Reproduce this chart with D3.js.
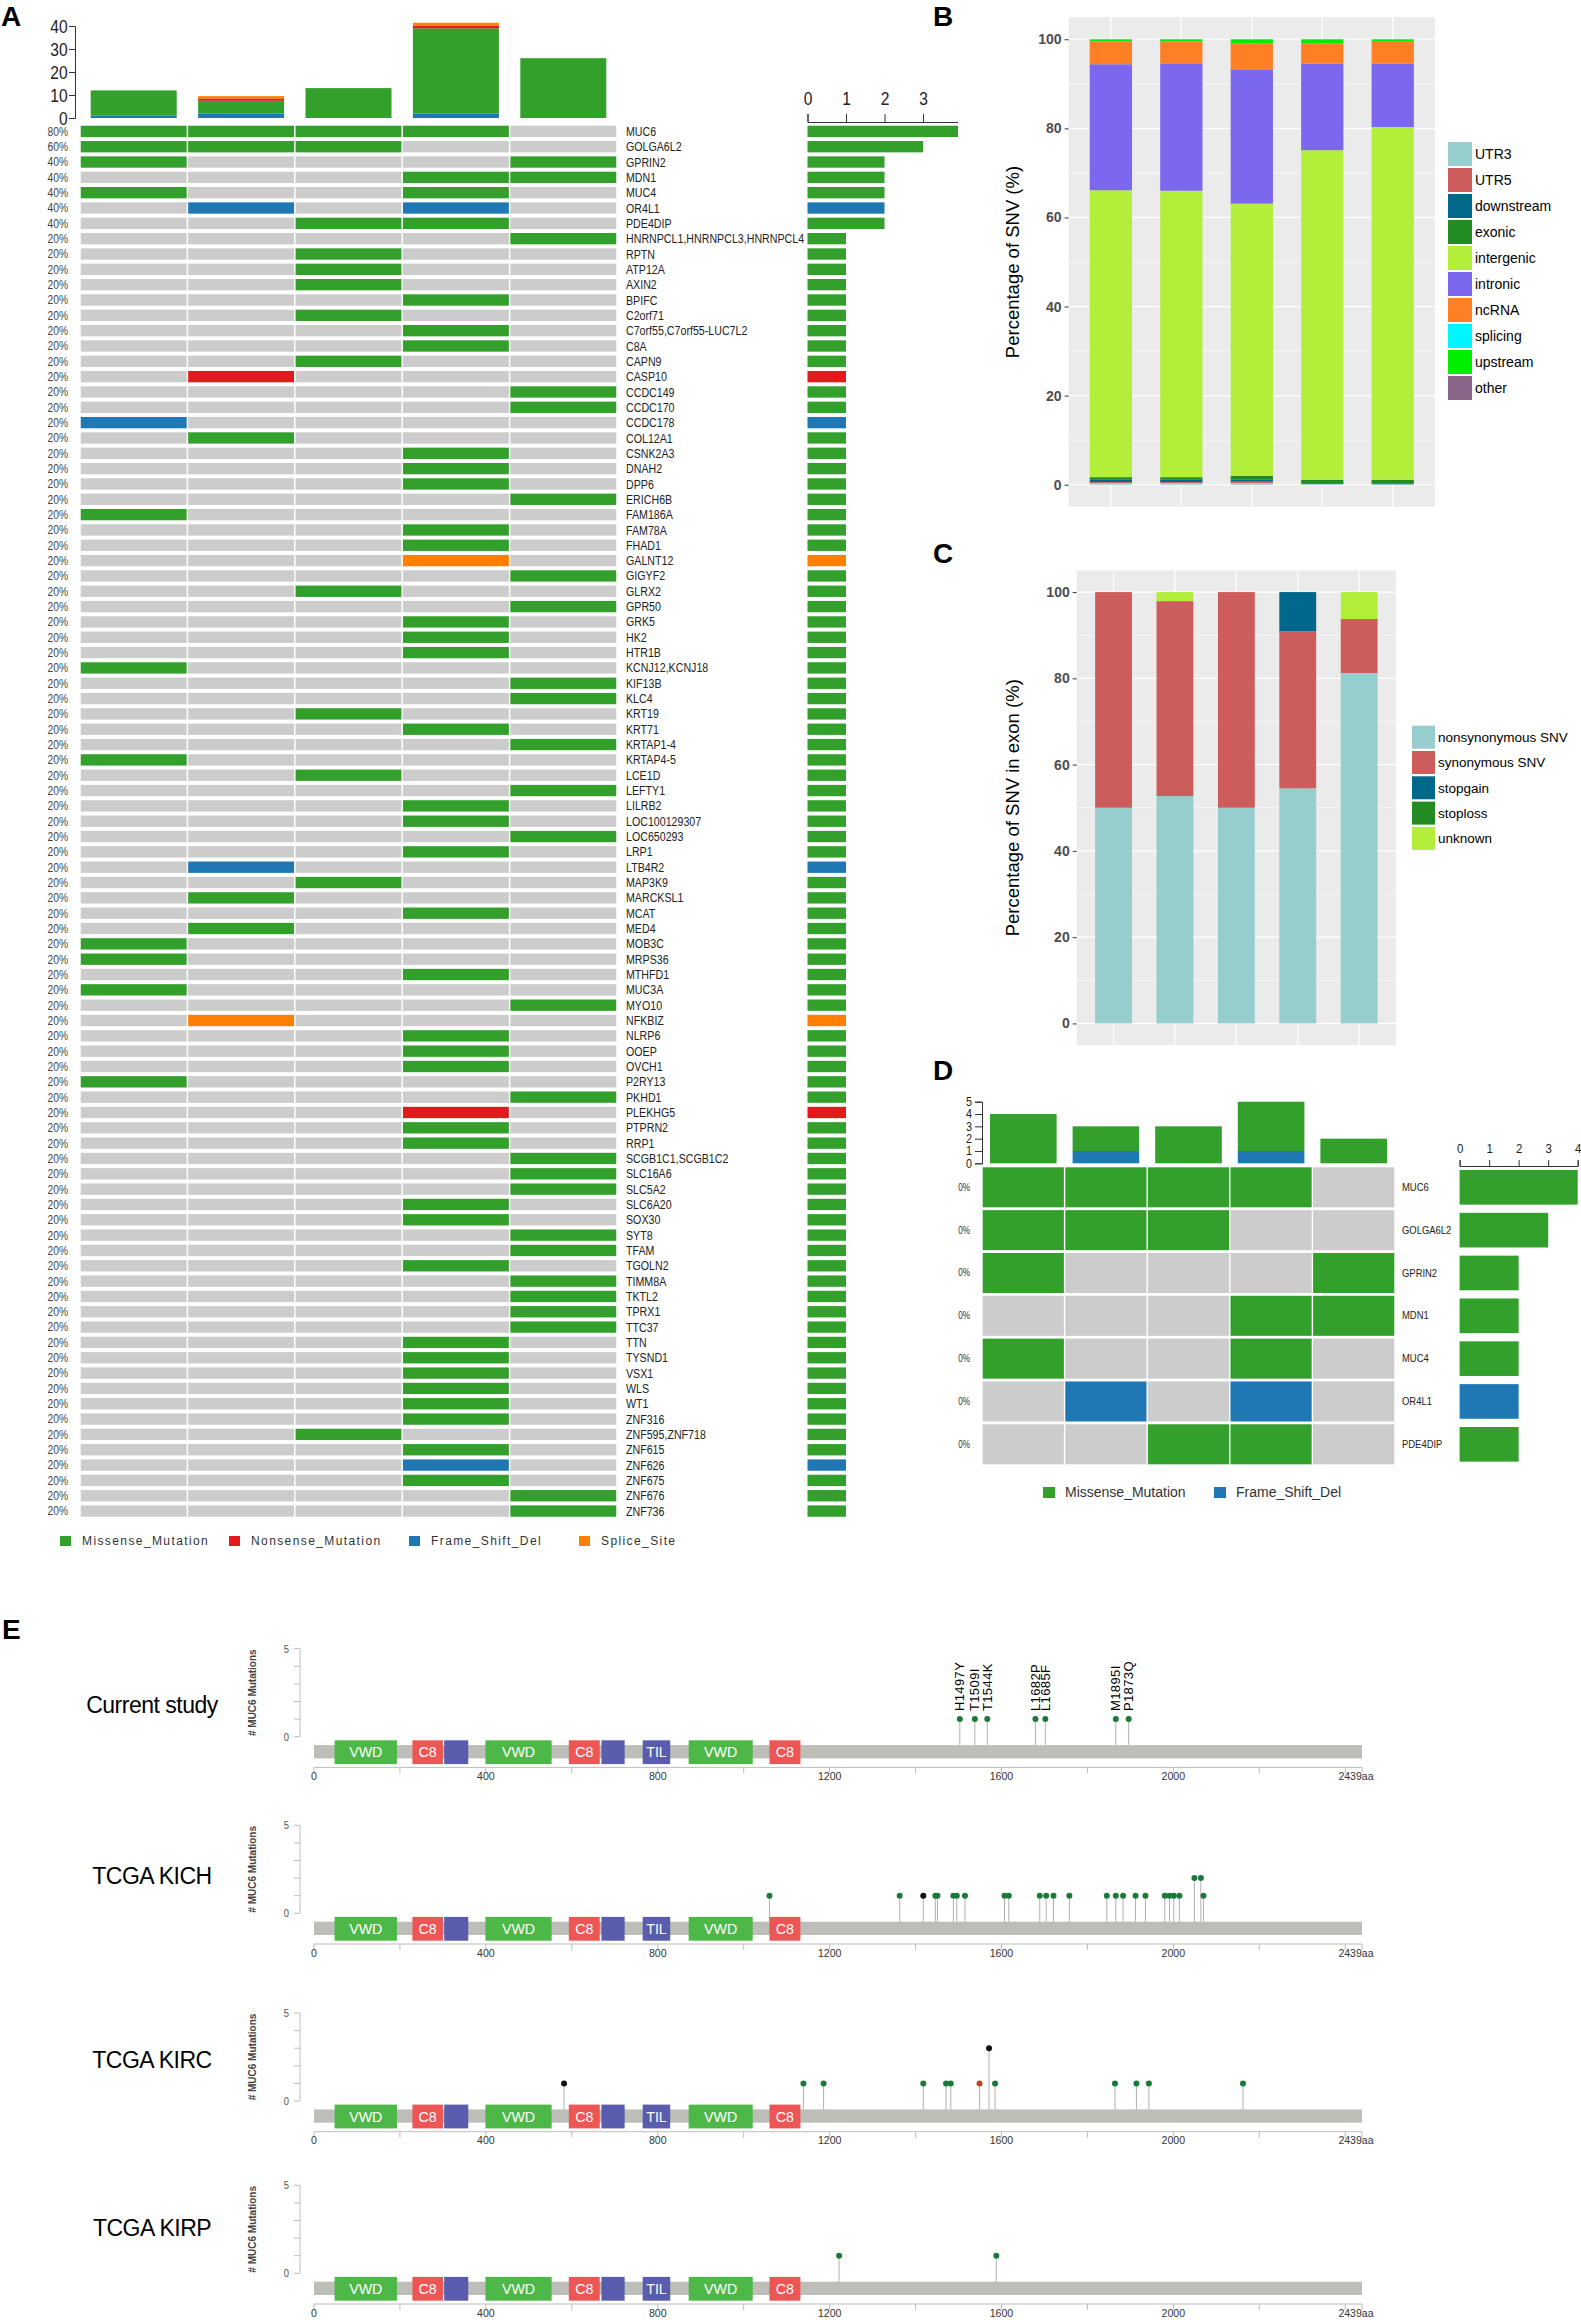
<!DOCTYPE html>
<html><head><meta charset="utf-8">
<script src="https://cdn.jsdelivr.net/npm/d3@7"></script>
<style>
body{margin:0;background:#fff}
svg{display:block}
text{font-family:"Liberation Sans",Arial,Helvetica,sans-serif}
</style>
</head><body>
<svg id="fig" width="1581" height="2320"></svg>
<script>
// ---------------- DATA ----------------
// Panel A: oncoplot (5 samples)
const oncoGenes = ["MUC6","GOLGA6L2","GPRIN2","MDN1","MUC4","OR4L1","PDE4DIP","HNRNPCL1,HNRNPCL3,HNRNPCL4","RPTN","ATP12A","AXIN2","BPIFC","C2orf71","C7orf55,C7orf55-LUC7L2","C8A","CAPN9","CASP10","CCDC149","CCDC170","CCDC178","COL12A1","CSNK2A3","DNAH2","DPP6","ERICH6B","FAM186A","FAM78A","FHAD1","GALNT12","GIGYF2","GLRX2","GPR50","GRK5","HK2","HTR1B","KCNJ12,KCNJ18","KIF13B","KLC4","KRT19","KRT71","KRTAP1-4","KRTAP4-5","LCE1D","LEFTY1","LILRB2","LOC100129307","LOC650293","LRP1","LTB4R2","MAP3K9","MARCKSL1","MCAT","MED4","MOB3C","MRPS36","MTHFD1","MUC3A","MYO10","NFKBIZ","NLRP6","OOEP","OVCH1","P2RY13","PKHD1","PLEKHG5","PTPRN2","RRP1","SCGB1C1,SCGB1C2","SLC16A6","SLC5A2","SLC6A20","SOX30","SYT8","TFAM","TGOLN2","TIMM8A","TKTL2","TPRX1","TTC37","TTN","TYSND1","VSX1","WLS","WT1","ZNF316","ZNF595,ZNF718","ZNF615","ZNF626","ZNF675","ZNF676","ZNF736"];
// per gene, 5 samples: M=Missense, N=Nonsense, F=Frame_Shift_Del, S=Splice_Site, -=none
const oncoHits = ["MMMM-","MMM--","M---M","---MM","M--M-","-F-F-","--MM-","----M","--M--","--M--","--M--","---M-","--M--","---M-","---M-","--M--","-N---","----M","----M","F----","-M---","---M-","---M-","---M-","----M","M----","---M-","---M-","---S-","----M","--M--","----M","---M-","---M-","---M-","M----","----M","----M","--M--","---M-","----M","M----","--M--","----M","---M-","---M-","----M","---M-","-F---","--M--","-M---","---M-","-M---","M----","M----","---M-","M----","----M","-S---","---M-","---M-","---M-","M----","----M","---N-","---M-","---M-","----M","----M","----M","---M-","---M-","----M","----M","---M-","----M","----M","----M","----M","---M-","---M-","---M-","---M-","---M-","---M-","--M--","---M-","---F-","---M-","----M","----M"];
// top bar: mutations per sample by class
const tmbFrameShift = [1, 2, 0, 2, 0];
const tmbMissense   = [11, 5.5, 13, 37, 26];
const tmbNonsense   = [0, 1, 0, 1.2, 0];
const tmbSplice     = [0, 1, 0, 1.2, 0];
const tmbTicks = [0, 10, 20, 30, 40];
const geneCountTicks = [0, 1, 2, 3, 4];
const mutClasses = ["Missense_Mutation","Nonsense_Mutation","Frame_Shift_Del","Splice_Site"];

// Panel B: SNV location (%)
const snvCategories = ["UTR3","UTR5","downstream","exonic","intergenic","intronic","ncRNA","splicing","upstream","other"];
const snvUTR3       = [0.4, 0.4, 0.4, 0.2, 0.1];
const snvUTR5       = [0.2, 0.2, 0.3, 0.0, 0.0];
const snvDownstream = [0.5, 0.5, 0.5, 0.2, 0.1];
const snvExonic     = [0.6, 0.6, 0.8, 0.7, 0.9];
const snvIntergenic = [64.4, 64.3, 61.1, 74.0, 79.2];
const snvIntronic   = [28.3, 28.6, 30.0, 19.4, 14.2];
const snvNcRNA      = [5.1, 4.9, 6.0, 4.6, 5.1];
const snvSplicing   = [0, 0, 0, 0, 0];
const snvUpstream   = [0.5, 0.5, 0.9, 0.9, 0.4];
const snvOther      = [0, 0, 0, 0, 0];
const pctTicks = [0, 20, 40, 60, 80, 100];

// Panel C: SNV in exon (%)
const exonCategories = ["nonsynonymous SNV","synonymous SNV","stopgain","stoploss","unknown"];
const exonNonsyn   = [50.0, 52.7, 50.0, 54.5, 81.25];
const exonSyn      = [50.0, 45.2, 50.0, 36.4, 12.5];
const exonStopgain = [0, 0, 0, 9.1, 0];
const exonStoploss = [0, 0, 0, 0, 0];
const exonUnknown  = [0, 2.1, 0, 0, 6.25];

// Panel D: top genes
const dGenes = ["MUC6","GOLGA6L2","GPRIN2","MDN1","MUC4","OR4L1","PDE4DIP"];
const dHits  = ["MMMM-","MMM--","M---M","---MM","M--M-","-F-F-","--MM-"];
const dPercent = ["0%","0%","0%","0%","0%","0%","0%"];
const dTopMissense   = [4, 2, 3, 4, 2];
const dTopFrameShift = [0, 1, 0, 1, 0];
const dTopTicks = [0, 1, 2, 3, 4, 5];

// Panel E: MUC6 lollipops
const proteinLength = 2439;
const axisTicksE = [0, 400, 800, 1200, 1600, 2000];
const domainName  = ["VWD","C8","","VWD","C8","","TIL","VWD","C8"];
const domainType  = ["VWD","C8","TIL","VWD","C8","TIL","TIL","VWD","C8"];
const domainStart = [48, 229, 303, 399, 593, 669, 765, 872, 1060];
const domainEnd   = [193, 300, 359, 553, 665, 723, 829, 1021, 1132];
const trackNames = ["Current study","TCGA KICH","TCGA KIRC","TCGA KIRP"];
// positions (aa, as drawn), counts, type (m=missense, t=truncating, o=other)
const currentPos   = [1503, 1538, 1567, 1679, 1702, 1866, 1896];
const currentCount = [1, 1, 1, 1, 1, 1, 1];
const currentType  = ["m","m","m","m","m","m","m"];
const currentLabel = ["H1497Y","T1509I","T1544K","L1682P","L1685F","M1895I","P1873Q"];
const kichPos   = [1060,1363,1418,1446,1451,1488,1496,1515,1607,1617,1689,1704,1721,1758,1845,1866,1883,1912,1935,1980,1991,2001,2014,2049,2064,2070];
const kichCount = [1,1,1,1,1,1,1,1,1,1,1,1,1,1,1,1,1,1,1,1,1,1,1,2,2,1];
const kichType  = ["m","m","t","m","m","m","m","m","m","m","m","m","m","m","m","m","m","m","m","m","m","m","m","m","m","m"];
const kircPos   = [582,1139,1186,1418,1471,1482,1549,1571,1585,1864,1914,1943,2162];
const kircCount = [1,1,1,1,1,1,1,3,1,1,1,1,1];
const kircType  = ["t","m","m","m","m","m","o","t","m","m","m","m","m"];
const kirpPos   = [1222, 1588];
const kirpCount = [1, 1];
const kirpType  = ["m","m"];

// ---------------- DRAWING ----------------
const svg = d3.select("#fig");
svg.append("rect").attr("width",1581).attr("height",2320).attr("fill","#fff");
const defs = svg.append("defs");
defs.append("clipPath").attr("id","clipA").append("rect").attr("x",0).attr("y",0).attr("width",958).attr("height",1600);

const mutColor = {M:"#33A02C", N:"#E31A1C", F:"#1F78B4", S:"#FF7F00"};
const cellGray = "#CCCCCC";

function ntext(g, x, y, str, o={}) {
  const size=o.size||12, sx=o.sx==null?0.82:o.sx;
  return g.append("text")
    .attr("transform",`translate(${x},${y}) scale(${sx},1)`)
    .attr("text-anchor",o.anchor||"start")
    .attr("dy",o.dy==null?"0.35em":o.dy)
    .attr("fill",o.fill||"#222")
    .attr("font-weight",o.weight||"normal")
    .style("font-size",size+"px")
    .style("letter-spacing",(o.ls||0)+"px")
    .text(str);
}

// panel letters
[["A",1,26],["B",933,26],["C",933,563],["D",933,1080],["E",2,1639]].forEach(([t,x,y])=>{
  svg.append("text").attr("x",x).attr("y",y).attr("font-weight","bold").style("font-size","28px").attr("fill","#000").text(t);
});

// ===== Panel A =====
(function(){
  const g = svg.append("g").attr("clip-path","url(#clipA)");
  const col = d3.scaleBand().domain(d3.range(5)).range([80,617]);
  const row = d3.scaleBand().domain(oncoGenes).range([123.7, 123.7+oncoGenes.length*15.33]).paddingInner(0.26).paddingOuter(0.13);
  oncoGenes.forEach((gene,i)=>{
    const hits = oncoHits[i];
    for (let j=0;j<5;j++){
      const c = hits[j];
      g.append("rect").attr("x",col(j)+0.75).attr("y",row(gene)).attr("width",col.bandwidth()-1.5).attr("height",row.bandwidth())
        .attr("fill", c==="-"?cellGray:mutColor[c]);
    }
    const n = hits.split("").filter(c=>c!=="-").length;
    ntext(g, 68, row(gene)+row.bandwidth()/2, Math.round(n/5*100)+"%", {anchor:"end", size:12.5, fill:"#444"});
    ntext(g, 626, row(gene)+row.bandwidth()/2, gene, {size:13, fill:"#222"});
  });
  // right bars
  const xr = d3.scaleLinear().domain([0,4]).range([807.5,961.5]);
  oncoGenes.forEach((gene,i)=>{
    const types = oncoHits[i].split("").filter(c=>c!=="-");
    g.append("rect").attr("x",xr(0)).attr("y",row(gene)).attr("width",xr(types.length)-xr(0)).attr("height",row.bandwidth())
      .attr("fill",mutColor[types[0]]);
  });
  const axR = g.append("g").attr("transform","translate(0,122)").call(d3.axisTop(xr).tickValues(geneCountTicks).tickSize(8).tickFormat(d3.format("d")));
  axR.select(".domain").attr("stroke","#333");
  axR.selectAll(".tick line").attr("stroke","#333");
  axR.selectAll("text").style("font-size","19px").attr("fill","#222").attr("transform","scale(0.82,1)").attr("y",-17);
  // top bars
  const yTop = d3.scaleLinear().domain([0,40]).range([118,26]);
  const topData = d3.range(5).map(i=>({F:tmbFrameShift[i],M:tmbMissense[i],N:tmbNonsense[i],S:tmbSplice[i]}));
  const stacked = d3.stack().keys(["F","M","N","S"])(topData);
  stacked.forEach(layer=>{
    layer.forEach((d,i)=>{
      if (d[1]-d[0] <= 0) return;
      g.append("rect").attr("x",col(i)+col.bandwidth()/2-43).attr("width",86)
        .attr("y",yTop(d[1])).attr("height",yTop(d[0])-yTop(d[1])).attr("fill",mutColor[layer.key]);
    });
  });
  const axT = g.append("g").attr("transform","translate(75,0)").call(d3.axisLeft(yTop).tickValues(tmbTicks).tickSize(6).tickPadding(3));
  axT.select(".domain").attr("stroke","#333");
  axT.selectAll(".tick line").attr("stroke","#333");
  axT.selectAll("text").style("font-size","19px").attr("fill","#222").attr("transform","scale(0.82,1)");
  // legend
  const leg = [["M",60,mutClasses[0]],["N",229,mutClasses[1]],["F",409,mutClasses[2]],["S",579,mutClasses[3]]];
  leg.forEach(([k,x,lab])=>{
    g.append("rect").attr("x",x).attr("y",1536).attr("width",11).attr("height",10).attr("fill",mutColor[k]);
    g.append("text").attr("x",x+22).attr("y",1541).attr("dy","0.35em").style("font-size","12px").style("letter-spacing","1.4px").attr("fill","#333").text(lab);
  });
})();

// ===== ggplot-like stacked percentage panel =====
function ggStack(opt){
  const g = svg.append("g");
  const {px0,px1,py0,py1,series,cats,colors,title,titleX,legX,legY,legStep,legSize,legFont} = opt;
  g.append("rect").attr("x",px0).attr("y",py0).attr("width",px1-px0).attr("height",py1-py0).attr("fill","#EBEBEB");
  const y = d3.scaleLinear().domain([-5,105]).range([py1,py0]);
  const x = d3.scaleBand().domain(d3.range(5)).range([px0,px1]).paddingInner(0.4).paddingOuter(0.3);
  [10,30,50,70,90].forEach(v=>g.append("line").attr("x1",px0).attr("x2",px1).attr("y1",y(v)).attr("y2",y(v)).attr("stroke","#fff").attr("stroke-width",0.6));
  pctTicks.forEach(v=>g.append("line").attr("x1",px0).attr("x2",px1).attr("y1",y(v)).attr("y2",y(v)).attr("stroke","#fff").attr("stroke-width",1.2));
  d3.range(5).forEach(i=>g.append("line").attr("x1",x(i)+x.bandwidth()/2).attr("x2",x(i)+x.bandwidth()/2).attr("y1",py0).attr("y2",py1).attr("stroke","#fff").attr("stroke-width",1.2));
  const rows = d3.range(5).map(i=>{const o={}; cats.forEach((c,k)=>o[c]=series[k][i]); return o;});
  const st = d3.stack().keys(cats)(rows);
  st.forEach((layer,k)=>{
    layer.forEach((d,i)=>{
      if (d[1]-d[0] <= 0) return;
      g.append("rect").attr("x",x(i)).attr("width",x.bandwidth()).attr("y",y(d[1])).attr("height",y(d[0])-y(d[1])).attr("fill",colors[k]);
    });
  });
  const ax = g.append("g").attr("transform",`translate(${px0},0)`).call(d3.axisLeft(y).tickValues(pctTicks).tickSize(4).tickPadding(3));
  ax.select(".domain").remove();
  ax.selectAll(".tick line").attr("stroke","#333");
  ax.selectAll("text").style("font-size","14px").attr("fill","#4D4D4D").attr("font-weight","bold");
  g.append("text").attr("transform",`translate(${titleX},${(py0+py1)/2}) rotate(-90)`).attr("text-anchor","middle").attr("dy","0.35em")
    .style("font-size","18.5px").attr("fill","#000").text(title);
  cats.forEach((c,k)=>{
    g.append("rect").attr("x",legX).attr("y",legY+k*legStep).attr("width",legSize).attr("height",legSize).attr("fill",colors[k]);
    g.append("text").attr("x",legX+legSize+3).attr("y",legY+k*legStep+legSize/2).attr("dy","0.35em").style("font-size",legFont+"px").attr("fill","#000").text(c);
  });
}

ggStack({px0:1068.6,px1:1435,py0:17,py1:507,
  series:[snvUTR3,snvUTR5,snvDownstream,snvExonic,snvIntergenic,snvIntronic,snvNcRNA,snvSplicing,snvUpstream,snvOther],
  cats:snvCategories,
  colors:["#96CDCD","#CD5C5C","#00688B","#228B22","#B3EE3A","#7B68EE","#FF7F24","#00F5FF","#00EE00","#8B668B"],
  title:"Percentage of SNV (%)", titleX:1013, legX:1448, legY:142, legStep:26, legSize:24, legFont:14});

ggStack({px0:1076.7,px1:1396,py0:570.5,py1:1045,
  series:[exonNonsyn,exonSyn,exonStopgain,exonStoploss,exonUnknown],
  cats:exonCategories,
  colors:["#96CDCD","#CD5C5C","#00688B","#228B22","#B3EE3A"],
  title:"Percentage of SNV in exon (%)", titleX:1013, legX:1412, legY:725.7, legStep:25.3, legSize:23, legFont:13.5});

// ===== Panel D =====
(function(){
  const g = svg.append("g");
  const col = d3.scaleBand().domain(d3.range(5)).range([982,1395]);
  const row = d3.scaleBand().domain(dGenes).range([1165.9, 1165.9+7*42.83]).paddingInner(0.065).paddingOuter(0.0325);
  dGenes.forEach((gene,i)=>{
    const hits=dHits[i];
    for(let j=0;j<5;j++){
      const c=hits[j];
      g.append("rect").attr("x",col(j)+0.7).attr("y",row(gene)).attr("width",col.bandwidth()-1.4).attr("height",row.bandwidth())
        .attr("fill", c==="-"?cellGray:mutColor[c]);
    }
    ntext(g, 970, row(gene)+row.bandwidth()/2, dPercent[i], {anchor:"end", size:10, fill:"#333"});
    ntext(g, 1402, row(gene)+row.bandwidth()/2, gene, {size:10.5, sx:0.9, fill:"#222"});
  });
  const xr = d3.scaleLinear().domain([0,4]).range([1459.6,1577.7]);
  dGenes.forEach((gene,i)=>{
    const t = dHits[i].split("").filter(c=>c!=="-");
    g.append("rect").attr("x",xr(0)).attr("y",row(gene)+2.7).attr("width",xr(t.length)-xr(0)).attr("height",row.bandwidth()-5.4).attr("fill",mutColor[t[0]]);
  });
  const axR = g.append("g").attr("transform","translate(0,1166)").call(d3.axisTop(xr).tickValues(geneCountTicks).tickSize(6).tickFormat(d3.format("d")));
  axR.select(".domain").attr("stroke","#333");
  axR.selectAll(".tick line").attr("stroke","#333");
  axR.selectAll("text").style("font-size","13.5px").attr("fill","#222").attr("transform","scale(0.85,1)").attr("y",-13);
  const yT = d3.scaleLinear().domain([0,5]).range([1163.3,1101.7]);
  const data = d3.range(5).map(i=>({F:dTopFrameShift[i],M:dTopMissense[i]}));
  d3.stack().keys(["F","M"])(data).forEach(layer=>{
    layer.forEach((d,i)=>{
      if(d[1]-d[0]<=0) return;
      g.append("rect").attr("x",col(i)+col.bandwidth()/2-33.3).attr("width",66.6).attr("y",yT(d[1])).attr("height",yT(d[0])-yT(d[1])).attr("fill",mutColor[layer.key]);
    });
  });
  const axT = g.append("g").attr("transform","translate(982,0)").call(d3.axisLeft(yT).tickValues(dTopTicks).tickSize(7).tickPadding(4).tickFormat(d3.format("d")));
  axT.select(".domain").attr("stroke","#333");
  axT.selectAll(".tick line").attr("stroke","#333");
  axT.selectAll("text").style("font-size","12px").attr("fill","#222").attr("transform","scale(0.9,1)");
  [["M",1043,mutClasses[0]],["F",1214,mutClasses[2]]].forEach(([k,x,lab])=>{
    g.append("rect").attr("x",x).attr("y",1487).attr("width",12).attr("height",11).attr("fill",mutColor[k]);
    g.append("text").attr("x",x+22).attr("y",1492.5).attr("dy","0.35em").style("font-size","14px").attr("fill","#333").text(lab);
  });
})();

// ===== Panel E =====
(function(){
  const g = svg.append("g");
  const x = d3.scaleLinear().domain([0,proteinLength]).range([314,1362]);
  const domColor = {VWD:"#4DB848", C8:"#EE5656", TIL:"#5A5DAD"};
  const dotColor = {m:"#1B7A3A", t:"#111111", o:"#B8471C"};
  const tracks = [
    {name:trackNames[0], y0:1736.7, nameY:1705, pos:currentPos, cnt:currentCount, typ:currentType, lab:currentLabel},
    {name:trackNames[1], y0:1913.3, nameY:1876, pos:kichPos, cnt:kichCount, typ:kichType},
    {name:trackNames[2], y0:2101, nameY:2060, pos:kircPos, cnt:kircCount, typ:kircType},
    {name:trackNames[3], y0:2273.3, nameY:2228, pos:kirpPos, cnt:kirpCount, typ:kirpType}
  ];
  tracks.forEach(tk=>{
    const y = d3.scaleLinear().domain([0,5]).range([tk.y0, tk.y0-88]);
    g.append("text").attr("x",152).attr("y",tk.nameY).attr("dy","0.35em").attr("text-anchor","middle")
      .style("font-size","23px").style("letter-spacing","-0.5px").attr("fill","#000").text(tk.name);
    g.append("line").attr("x1",300).attr("x2",300).attr("y1",y(0)).attr("y2",y(5)).attr("stroke","#BDBDBD");
    d3.range(6).forEach(v=>g.append("line").attr("x1",294).attr("x2",300).attr("y1",y(v)).attr("y2",y(v)).attr("stroke","#BDBDBD"));
    [0,5].forEach(v=>ntext(g, 289, y(v), String(v), {anchor:"end", size:11.5, fill:"#555"}));
    g.append("text").attr("transform",`translate(252,${(y(0)+y(5))/2}) rotate(-90)`).attr("text-anchor","middle").attr("dy","0.35em")
      .style("font-size","10px").attr("font-weight","bold").attr("fill","#444").text("# MUC6 Mutations");
    tk.pos.forEach((p,i)=>{
      g.append("line").attr("x1",x(p)).attr("x2",x(p)).attr("y1",y(tk.cnt[i])).attr("y2",tk.y0+8.5).attr("stroke","#B0B0B0").attr("stroke-width",1);
    });
    tk.pos.forEach((p,i)=>{
      g.append("circle").attr("cx",x(p)).attr("cy",y(tk.cnt[i])).attr("r",3).attr("fill",dotColor[tk.typ[i]]);
      if (tk.lab) {
        g.append("text").attr("transform",`translate(${x(p)},${y(tk.cnt[i])-8}) rotate(-90)`).attr("dy","0.35em")
          .style("font-size","13px").style("letter-spacing","0.4px").attr("fill","#000").text(tk.lab[i]);
      }
    });
    g.append("rect").attr("x",x(0)).attr("y",tk.y0+8.4).attr("width",x(proteinLength)-x(0)).attr("height",13.3).attr("fill","#BEBEB8");
    domainStart.forEach((s,i)=>{
      g.append("rect").attr("x",x(s)).attr("y",tk.y0+3.6).attr("width",x(domainEnd[i])-x(s)).attr("height",23.8).attr("fill",domColor[domainType[i]]);
      if (domainName[i]) {
        ntext(g, (x(s)+x(domainEnd[i]))/2, tk.y0+15.5, domainName[i], {anchor:"middle", size:15, sx:0.95, fill:"#fff"});
      }
    });
    const ay = tk.y0+30.7;
    g.append("line").attr("x1",x(0)).attr("x2",x(proteinLength)).attr("y1",ay).attr("y2",ay).attr("stroke","#BDBDBD");
    d3.range(0,2439,200).concat([proteinLength]).forEach(v=>g.append("line").attr("x1",x(v)).attr("x2",x(v)).attr("y1",ay).attr("y2",ay+6).attr("stroke","#BDBDBD"));
    axisTicksE.forEach(v=>ntext(g, x(v), ay+8.5, String(v), {anchor:"middle", size:11.5, sx:0.92, fill:"#333"}));
    ntext(g, x(proteinLength)-6, ay+8.5, proteinLength+"aa", {anchor:"middle", size:11.5, sx:0.92, fill:"#333"});
  });
})();
</script>
</body></html>
